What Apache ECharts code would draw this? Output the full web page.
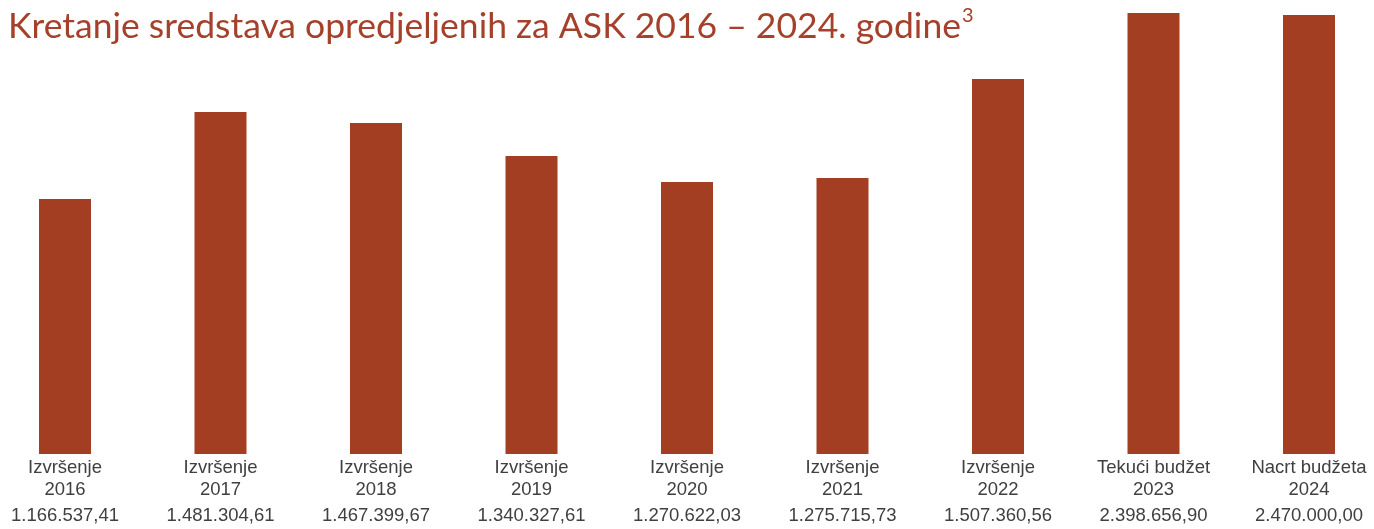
<!DOCTYPE html>
<html>
<head>
<meta charset="utf-8">
<title>Kretanje sredstava ASK</title>
<script src="https://cdn.jsdelivr.net/npm/echarts@6/dist/echarts.min.js"></script>
<style>
  html, body { margin: 0; padding: 0; background: #fff; }
  #chart { width: 1374px; height: 529px; }
</style>
</head>
<body>
<div id="chart"></div>
<script>
// podaci
var labelTop = ['Izvršenje', 'Izvršenje', 'Izvršenje', 'Izvršenje', 'Izvršenje', 'Izvršenje', 'Izvršenje', 'Tekući budžet', 'Nacrt budžeta'];
var years = ['2016', '2017', '2018', '2019', '2020', '2021', '2022', '2023', '2024'];
var amounts = [1166537.41, 1481304.61, 1467399.67, 1340327.61, 1270622.03, 1275715.73, 1507360.56, 2398656.90, 2470000.00];
// visina stubova ocitana sa slike (relativne jedinice, ne prate iznose)
var barHeights = [255, 342, 331, 298, 272, 276, 375, 441, 439];

// 1234567.8 -> 1.234.567,80
function fmt(v) {
    var parts = v.toFixed(2).split('.');
    var s = parts[0].replace(/\B(?=(\d{3})+(?!\d))/g, '.');
    return s + ',' + parts[1];
}

var myChart = echarts.init(document.getElementById('chart'));
var option = {
    animation: false,
    title: {
        text: '{t|Kretanje sredstava opredjeljenih za ASK 2016 – 2024. godine}{s|3}',
        left: 3,
        top: 1,
        textStyle: {
            fontWeight: 'normal',
            rich: {
                t: { fontFamily: 'Lato', fontWeight: 'normal', fontSize: 35.5, color: '#a5402b', lineHeight: 42 },
                s: { fontFamily: 'Lato', fontWeight: 'normal', fontSize: 20, color: '#a5402b', lineHeight: 42, verticalAlign: 'top', padding: [0, 0, 13, 1] }
            }
        }
    },
    grid: {
        left: 65,
        right: 65,
        top: 4,
        bottom: 75
    },
    xAxis: {
        type: 'category',
        boundaryGap: false,
        data: years,
        axisLine: { show: false },
        axisTick: { show: false },
        axisLabel: {
            interval: 0,
            margin: 3,
            formatter: function (value, idx) {
                return '{a|' + labelTop[idx] + '}\n{a|' + value + '}\n{c|' + fmt(amounts[idx]) + '}';
            },
            rich: {
                a: { fontFamily: 'Liberation Sans', fontSize: 18.5, color: '#404040', lineHeight: 22, align: 'center' },
                c: { fontFamily: 'Liberation Sans', fontSize: 18.5, color: '#404040', lineHeight: 30, align: 'center' }
            }
        }
    },
    yAxis: {
        type: 'value',
        min: 0,
        max: 450,
        show: false
    },
    series: [
        {
            name: 'Iznos',
            type: 'bar',
            barWidth: 52,
            itemStyle: { color: '#a33e23' },
            data: barHeights
        }
    ]
};
myChart.setOption(option, true);
window.onresize = myChart.resize;
</script>
</body>
</html>
